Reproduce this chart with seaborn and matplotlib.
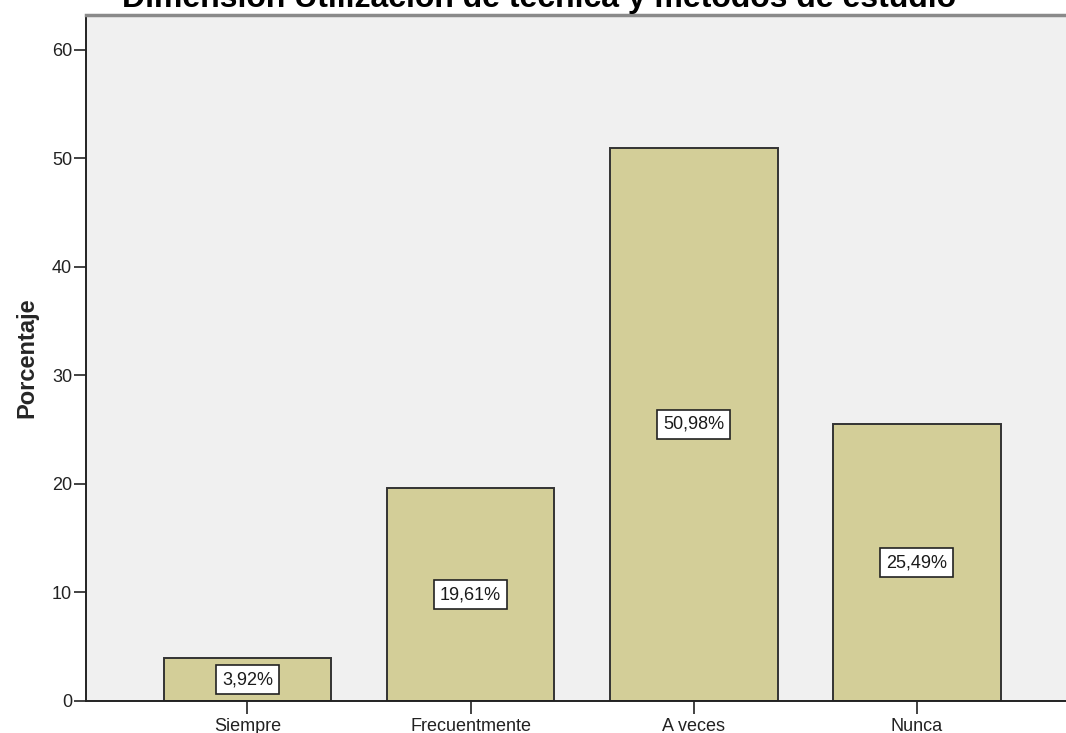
import matplotlib
matplotlib.use("Agg")
import matplotlib.pyplot as plt
import pandas as pd
import seaborn as sns

# data
categories = ["Siempre", "Frecuentmente", "A veces", "Nunca"]
percentages = [3.92, 19.61, 50.98, 25.49]
y_ticks = [0, 10, 20, 30, 40, 50, 60]

title = "Dimensión Utilización de técnica y métodos de estudio"
y_label = "Porcentaje"

BAR_COLOR = "#d3ce98"
BG_COLOR = "#f0f0f0"

df = pd.DataFrame({"categoria": categories, "porcentaje": percentages})

sns.set_style("white")
plt.rcParams["font.family"] = ["Liberation Sans", "DejaVu Sans"]

fig = plt.figure(figsize=(10.66, 7.33), dpi=100)
ax = fig.add_axes([0.0807, 0.0437, 0.9193, 0.9359])
ax.set_facecolor(BG_COLOR)

sns.barplot(data=df, x="categoria", y="porcentaje", order=categories,
            color=BAR_COLOR, saturation=1, width=0.753,
            edgecolor="#333333", linewidth=1.4, ax=ax)

# value labels in white boxes at half height of each bar
for i, v in enumerate(percentages):
    txt = f"{v:.2f}%".replace(".", ",")
    ax.text(i, v / 2, txt, ha="center", va="center", fontsize=13,
            color="#1a1a1a",
            bbox=dict(boxstyle="square,pad=0.32", facecolor="white",
                      edgecolor="#222222", linewidth=1.2))

ax.set_xlim(-0.724, 3.67)
ax.set_ylim(0, 63.2)
ax.set_yticks(y_ticks)
ax.set_xlabel("")
ax.set_ylabel(y_label, fontsize=17, fontweight="bold", labelpad=10)

ax.tick_params(axis="both", which="both", direction="out", length=9,
               width=1.2, color="#222222", labelsize=13,
               labelcolor="#222222", left=True, bottom=True)
ax.tick_params(axis="y", pad=1)
ax.tick_params(axis="x", pad=3)

for side in ["left", "bottom"]:
    ax.spines[side].set_color("#222222")
    ax.spines[side].set_linewidth(1.4)
ax.spines["right"].set_visible(False)
ax.spines["top"].set_color("#8a8a8a")
ax.spines["top"].set_linewidth(2.5)

# title is partly cut off at the top of the image, like in the original
fig.text(0.506, 1 - 7 / 733, title, ha="center", va="baseline",
         fontsize=23, fontweight="bold", color="black")

fig.savefig("out.png", dpi=100)
plt.close(fig)
